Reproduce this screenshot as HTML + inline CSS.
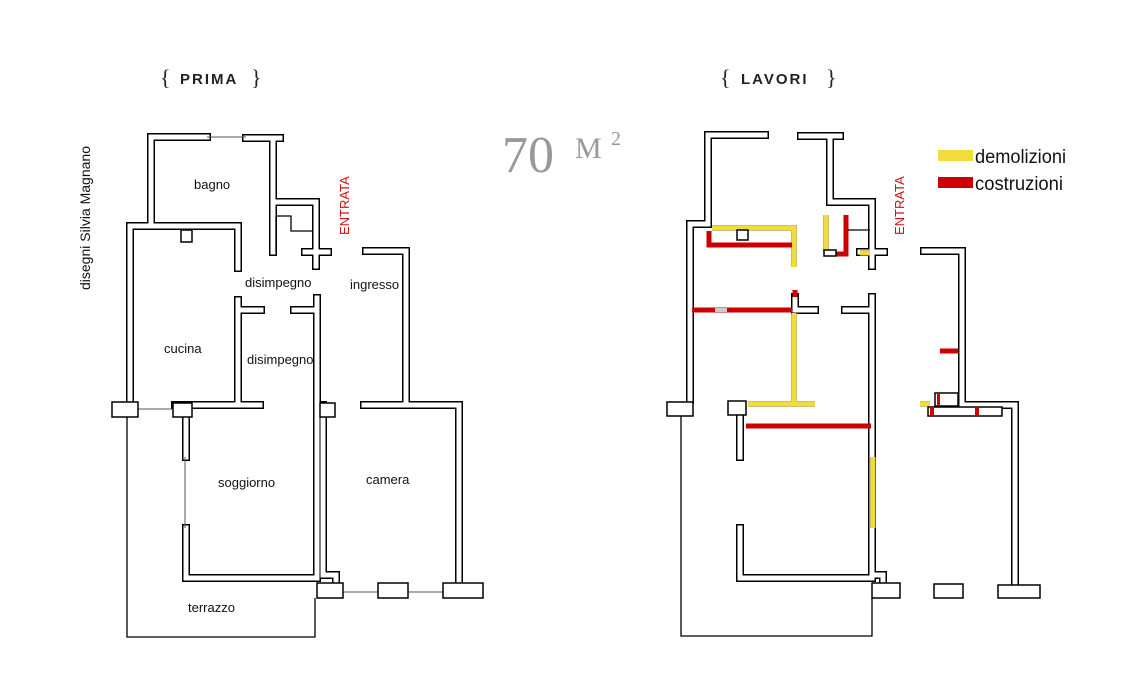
<!DOCTYPE html>
<html><head><meta charset="utf-8"><style>
html,body{margin:0;padding:0;background:#fff;}
svg{display:block}
.t{font-family:"Liberation Sans Narrow","Liberation Sans",sans-serif;font-size:13px;fill:#111}
.h{font-family:"Liberation Sans",sans-serif;font-weight:bold;font-size:15px;letter-spacing:2px;fill:#222}
.br{font-family:"Liberation Serif",serif;font-size:22px;fill:#222}
rect.bx{fill:#fff;stroke:#000;stroke-width:1.5}
</style></head><body>
<svg width="1140" height="680" viewBox="0 0 1140 680" xmlns="http://www.w3.org/2000/svg">
<defs>
<g id="WL" fill="none">
 <path d="M151,224 V137 H207"/>
 <path d="M246,138 H280"/>
 <path d="M273,141 V252"/>
 <path d="M275,202 H316 V266"/>
 <path d="M305,252 H328"/>
 <path d="M130,403 V226 H238 V268"/>
 <path d="M238,300 V404"/>
 <path d="M240,310 H261"/>
 <path d="M175,405 H260"/>
 <path d="M317,298 V575"/>
 <path d="M294,310 H317"/>
 <path d="M366,251 H406 V404"/>
 <path d="M364,405 H459 V585"/>
 <path d="M186,405 V457"/>
 <path d="M186,528 V578 H317"/>
 <path d="M323,405 V575 H336 V590"/>
 <path d="M708,224 V135 H765"/>
 <path d="M801,136 H840"/>
 <path d="M830,138 V202 H872 V266"/>
 <path d="M860,252 H884"/>
 <path d="M690,400 V224 H708"/>
 <path d="M795,297 V310 H815"/>
 <path d="M872,297 V575 H883 V590"/>
 <path d="M845,310 H870"/>
 <path d="M924,251 H962 V403"/>
 <path d="M962,405 H1015 V585"/>
 <path d="M740,415 V457"/>
 <path d="M740,528 V578 H872"/>
</g>
<g id="YL" fill="none">
 <path d="M712,228 H794 V267"/>
 <path d="M826,215 V252"/>
 <path d="M860,253 H870"/>
 <path d="M794,313 V402"/>
 <path d="M748,404 H815"/>
 <path d="M873,457 V528"/>
 <path d="M920,404 H930"/>
</g>
<g id="RL" fill="none">
 <path d="M709,231 V245 H792"/>
 <path d="M846,215 V254 H836"/>
 <path d="M692,310 H792"/>
 <path d="M795,290 V297"/>
 <path d="M940,351 H958"/>
 <path d="M746,426 H871"/>
</g>
</defs>
<use href="#WL" stroke="#000" stroke-width="8" stroke-linecap="square"/>
<use href="#WL" stroke="#fff" stroke-width="5" stroke-linecap="square"/>
<use href="#YL" stroke="#000" stroke-width="6" stroke-linecap="butt" opacity="0.35"/>
<use href="#YL" stroke="#f1dc3a" stroke-width="5" stroke-linecap="butt"/>
<use href="#RL" stroke="#c00" stroke-width="5" stroke-linecap="butt"/>

<g stroke="#000" stroke-width="1.3" fill="none">
 <path d="M276,252 V216 H291 V231 H313"/>
 <path d="M848,230 H870"/>
 <path d="M127,417 V637 H315 V598"/>
 <path d="M681,416 V636 H872 V598"/>
</g>
<g stroke="#555" stroke-width="1" fill="none">
 <path d="M207,137 H246"/>
 <path d="M138,409 H173"/>
 <path d="M185,457 V528"/>
 <path d="M343,592 H378 M408,592 H443"/>
</g>
<rect class="bx" x="112" y="402" width="26" height="15"/>
<rect class="bx" x="173" y="403" width="19" height="14"/>
<rect class="bx" x="181" y="230" width="11" height="12"/>
<rect class="bx" x="320" y="403" width="15" height="14"/>
<rect class="bx" x="317" y="583" width="26" height="15"/>
<rect class="bx" x="378" y="583" width="30" height="15"/>
<rect class="bx" x="443" y="583" width="40" height="15"/>
<rect class="bx" x="737" y="230" width="11" height="10"/>
<rect class="bx" x="824" y="250" width="12" height="6"/>
<rect class="bx" x="667" y="402" width="26" height="14"/>
<rect class="bx" x="728" y="401" width="18" height="14"/>
<rect class="bx" x="935" y="393" width="23" height="13"/>
<rect class="bx" x="928" y="407" width="74" height="9"/>
<rect x="930" y="407" width="4" height="9" fill="#c00"/>
<rect x="975" y="407" width="4" height="9" fill="#c00"/>
<rect x="937" y="393" width="3" height="13" fill="#c00"/>
<rect class="bx" x="872" y="583" width="28" height="15"/>
<rect class="bx" x="934" y="584" width="29" height="14"/>
<rect class="bx" x="998" y="585" width="42" height="13"/>
<rect x="715" y="308" width="12" height="4" fill="#ccc"/>

<text x="160" y="85" class="br">{</text>
<text x="180" y="84" class="h">PRIMA</text>
<text x="251" y="85" class="br">}</text>
<text x="720" y="85" class="br">{</text>
<text x="741" y="84" class="h">LAVORI</text>
<text x="826" y="85" class="br">}</text>
<text x="502" y="172" font-family="Liberation Serif,serif" font-size="52" fill="#999">70</text>
<text x="575" y="158" font-family="Liberation Serif,serif" font-size="30" fill="#999">M</text>
<text x="611" y="145" font-family="Liberation Serif,serif" font-size="20" fill="#999">2</text>
<text transform="translate(90,290) rotate(-90)" class="t" style="font-size:14px">disegni Silvia Magnano</text>

<text x="194" y="189" class="t">bagno</text>
<text x="245" y="287" class="t">disimpegno</text>
<text x="350" y="289" class="t">ingresso</text>
<text x="164" y="353" class="t">cucina</text>
<text x="247" y="364" class="t">disimpegno</text>
<text x="218" y="487" class="t">soggiorno</text>
<text x="366" y="484" class="t">camera</text>
<text x="188" y="612" class="t">terrazzo</text>
<text transform="translate(349,235) rotate(-90)" class="t" style="fill:#d01010">ENTRATA</text>
<text transform="translate(904,235) rotate(-90)" class="t" style="fill:#d01010">ENTRATA</text>

<rect x="938" y="150" width="35" height="11" fill="#f1dc3a"/>
<rect x="938" y="177" width="35" height="11" fill="#c00"/>
<text x="975" y="163" class="t" style="font-size:19px" textLength="91" lengthAdjust="spacingAndGlyphs">demolizioni</text>
<text x="975" y="190" class="t" style="font-size:19px" textLength="88" lengthAdjust="spacingAndGlyphs">costruzioni</text>
</svg>
</body></html>
